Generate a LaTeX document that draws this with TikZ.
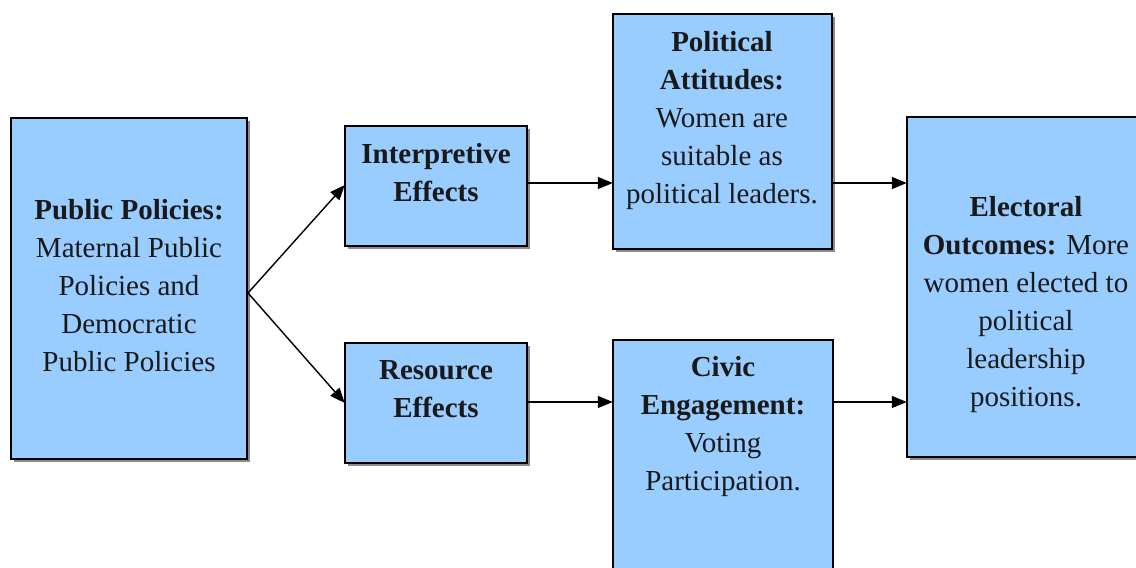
\documentclass[tikz,border=0pt]{standalone}
\usepackage{fontspec}
\setmainfont{Liberation Serif}
\usetikzlibrary{arrows.meta}
\begin{document}
\begin{tikzpicture}[x=1pt,y=-1pt,
  boxstyle/.style={draw=black,line width=2pt,fill=boxblue},
  shadowstyle/.style={fill=black!45,draw=none},
  txt/.style={anchor=north,align=center,inner sep=0pt,font=\fontsize{29}{38}\selectfont,text=black!90},
  conn/.style={line width=1.4pt,-{Triangle[length=15pt,width=12pt]}}]
\definecolor{boxblue}{HTML}{99CCFF}
\useasboundingbox (0,0) rectangle (1136,568);
% shadows
\fill[shadowstyle] (14,121) rectangle (250,462);
\fill[shadowstyle] (348,129) rectangle (530,249);
\fill[shadowstyle] (348,346) rectangle (530,466);
\fill[shadowstyle] (616,17) rectangle (835,252);
\fill[shadowstyle] (910,120) rectangle (1150,460);
% boxes
\draw[boxstyle] (11,118) rectangle (247,459);
\node[inner sep=0pt,minimum width=236pt,minimum height=341pt] (pp) at (129,288.5) {};
\draw[boxstyle] (345,126) rectangle (527,246);
\node[inner sep=0pt,minimum width=182pt,minimum height=120pt] (ie) at (436,186) {};
\draw[boxstyle] (345,343) rectangle (527,463);
\node[inner sep=0pt,minimum width=182pt,minimum height=120pt] (re) at (436,403) {};
\draw[boxstyle] (613,14) rectangle (832,249);
\node[inner sep=0pt,minimum width=219pt,minimum height=235pt] (pa) at (722.5,131.5) {};
\draw[boxstyle] (613,340) rectangle (833,580);
\node[inner sep=0pt,minimum width=220pt,minimum height=240pt] (ce) at (723,460) {};
\draw[boxstyle] (907,117) rectangle (1150,457);
\node[inner sep=0pt,minimum width=243pt,minimum height=340pt] (eo) at (1028.5,287) {};
% texts
\node[txt] (t-pp) at (129,199) {\textbf{Public Policies:}\\Maternal Public\\Policies and\\Democratic\\Public Policies};
\node[txt] (t-ie) at (436,143) {\textbf{Interpretive}\\\textbf{Effects}};
\node[txt] (t-re) at (436,360) {\textbf{Resource}\\\textbf{Effects}};
\node[txt] (t-pa) at (722,31) {\textbf{Political}\\\textbf{Attitudes:}\\Women are\\suitable as\\political leaders.};
\node[txt] (t-ce) at (723,356) {\textbf{Civic}\\\textbf{Engagement:}\\Voting\\Participation.};
\node[txt] (t-eo) at (1026,196) {\textbf{Electoral}\\\textbf{Outcomes:} More\\women elected to\\political\\leadership\\positions.};
% connectors
\coordinate (pp-out) at (248,293);
\draw[conn] (pp-out) -- (ie.west |- 0,185);
\draw[conn] (pp-out) -- (re.west |- 0,403);
\draw[conn] (ie.east |- 0,183) -- (pa.west |- 0,183);
\draw[conn] (re.east |- 0,402) -- (ce.west |- 0,402);
\draw[conn] (pa.east |- 0,183) -- (eo.west |- 0,183);
\draw[conn] (ce.east |- 0,402) -- (eo.west |- 0,402);
\end{tikzpicture}
\end{document}
